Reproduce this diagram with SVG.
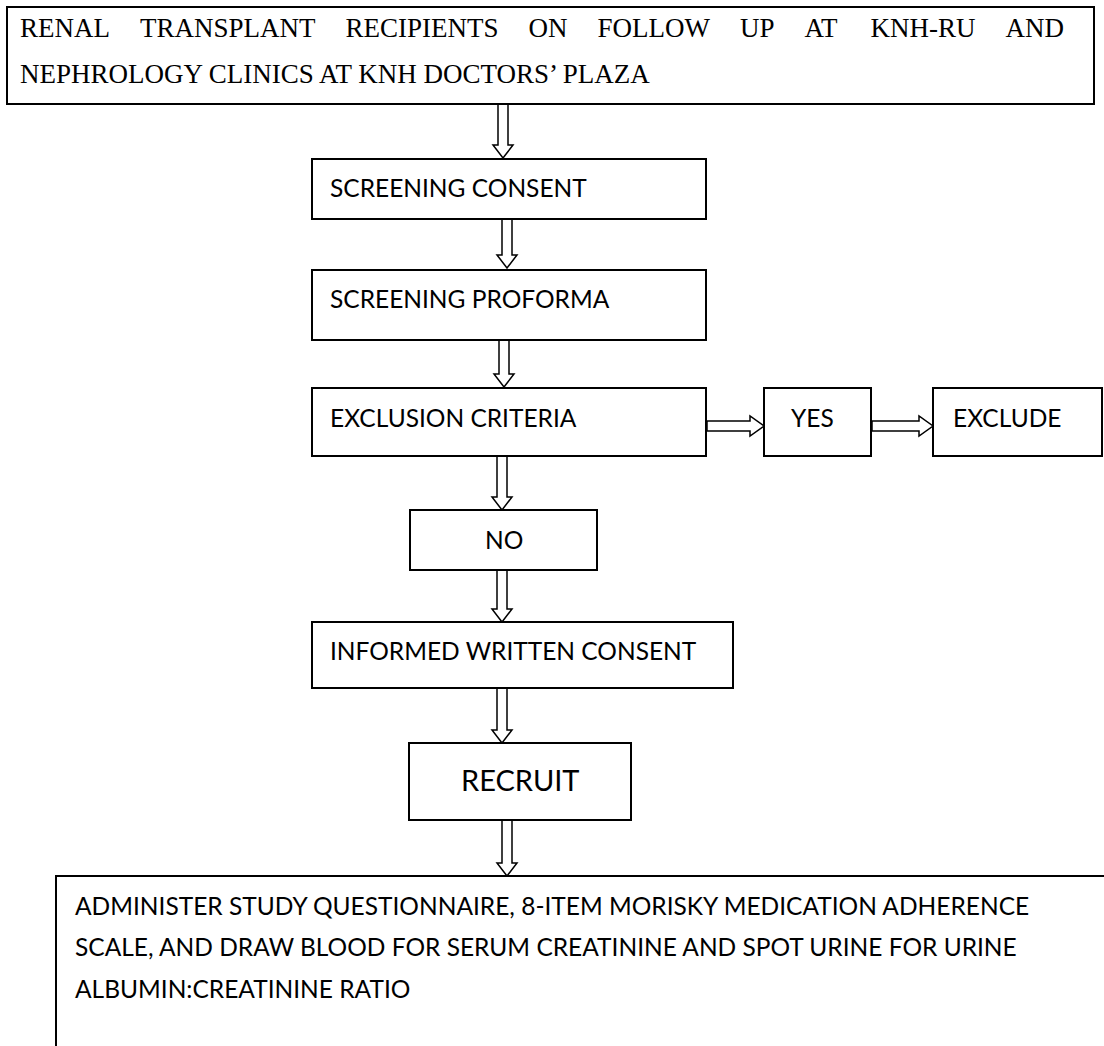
<svg xmlns="http://www.w3.org/2000/svg" width="1104" height="1046" viewBox="0 0 1104 1046">
<style>
.box{fill:#fff;stroke:#000;stroke-width:2}
.arr{fill:#fff;stroke:#000;stroke-width:1.5;stroke-linejoin:miter}
.serif{font-family:"Liberation Serif","Times New Roman",serif;font-size:27px;fill:#000}
.sans{font-family:Lato,"Open Sans",sans-serif;font-size:24.5px;fill:#000}
.big{font-family:Lato,"Open Sans",sans-serif;font-size:29px;fill:#000}
</style>
<rect width="1104" height="1046" fill="#fff"/>
<g id="connectors">
<path class="arr" d="M498,104 L508,104 L508,145 L513,145 L503,158 L493,145 L498,145 Z"/>
<path class="arr" d="M502,219 L512,219 L512,255 L517,255 L507,268 L497,255 L502,255 Z"/>
<path class="arr" d="M499,340 L509,340 L509,374 L514,374 L504,387 L494,374 L499,374 Z"/>
<path class="arr" d="M497,456 L507,456 L507,497 L512,497 L502,510 L492,497 L497,497 Z"/>
<path class="arr" d="M497,570 L507,570 L507,609 L512,609 L502,622 L492,609 L497,609 Z"/>
<path class="arr" d="M497,688 L507,688 L507,730 L512,730 L502,743 L492,730 L497,730 Z"/>
<path class="arr" d="M502,820 L512,820 L512,863 L517,863 L507,876 L497,863 L502,863 Z"/>
<path class="arr" d="M707,421 L750,421 L750,416 L764,426 L750,436 L750,431 L707,431 Z"/>
<path class="arr" d="M872,421 L919,421 L919,416 L933,426 L919,436 L919,431 L872,431 Z"/>
</g>
<g id="node-top">
<rect class="box" x="7" y="7" width="1087" height="97"/>
<text class="serif" y="37"><tspan x="20">RENAL</tspan><tspan x="140">TRANSPLANT</tspan><tspan x="345.5">RECIPIENTS</tspan><tspan x="528.5">ON</tspan><tspan x="597.5">FOLLOW</tspan><tspan x="740">UP</tspan><tspan x="804.5">AT</tspan><tspan x="870.5">KNH-RU</tspan><tspan x="1005.5">AND</tspan></text>
<text class="serif" x="20" y="83">NEPHROLOGY CLINICS AT KNH DOCTORS’ PLAZA</text>
</g>
<g id="node-screening-consent">
<rect class="box" x="312" y="159" width="394" height="60"/>
<text class="sans" x="330" y="197">SCREENING CONSENT</text>
</g>
<g id="node-screening-proforma">
<rect class="box" x="312" y="270" width="394" height="70"/>
<text class="sans" x="330" y="308">SCREENING PROFORMA</text>
</g>
<g id="node-exclusion">
<rect class="box" x="312" y="388" width="394" height="68"/>
<text class="sans" x="330" y="427">EXCLUSION CRITERIA</text>
</g>
<g id="node-yes">
<rect class="box" x="764" y="388" width="107" height="68"/>
<text class="sans" x="791" y="427">YES</text>
</g>
<g id="node-exclude">
<rect class="box" x="933" y="388" width="169" height="68"/>
<text class="sans" x="953" y="427">EXCLUDE</text>
</g>
<g id="node-no">
<rect class="box" x="410" y="510" width="187" height="60"/>
<text class="sans" x="485" y="549">NO</text>
</g>
<g id="node-informed">
<rect class="box" x="312" y="622" width="421" height="66"/>
<text class="sans" x="330" y="660">INFORMED WRITTEN CONSENT</text>
</g>
<g id="node-recruit">
<rect class="box" x="409" y="743" width="222" height="77"/>
<text class="big" x="461" y="791">RECRUIT</text>
</g>
<g id="node-administer">
<rect class="box" x="56" y="876" width="1060" height="200"/>
<text class="sans" x="75" y="915">ADMINISTER STUDY QUESTIONNAIRE, 8-ITEM MORISKY MEDICATION ADHERENCE</text>
<text class="sans" x="75" y="956">SCALE, AND DRAW BLOOD FOR SERUM CREATININE AND SPOT URINE FOR URINE</text>
<text class="sans" x="75" y="998">ALBUMIN:CREATININE RATIO</text>
</g>
</svg>
